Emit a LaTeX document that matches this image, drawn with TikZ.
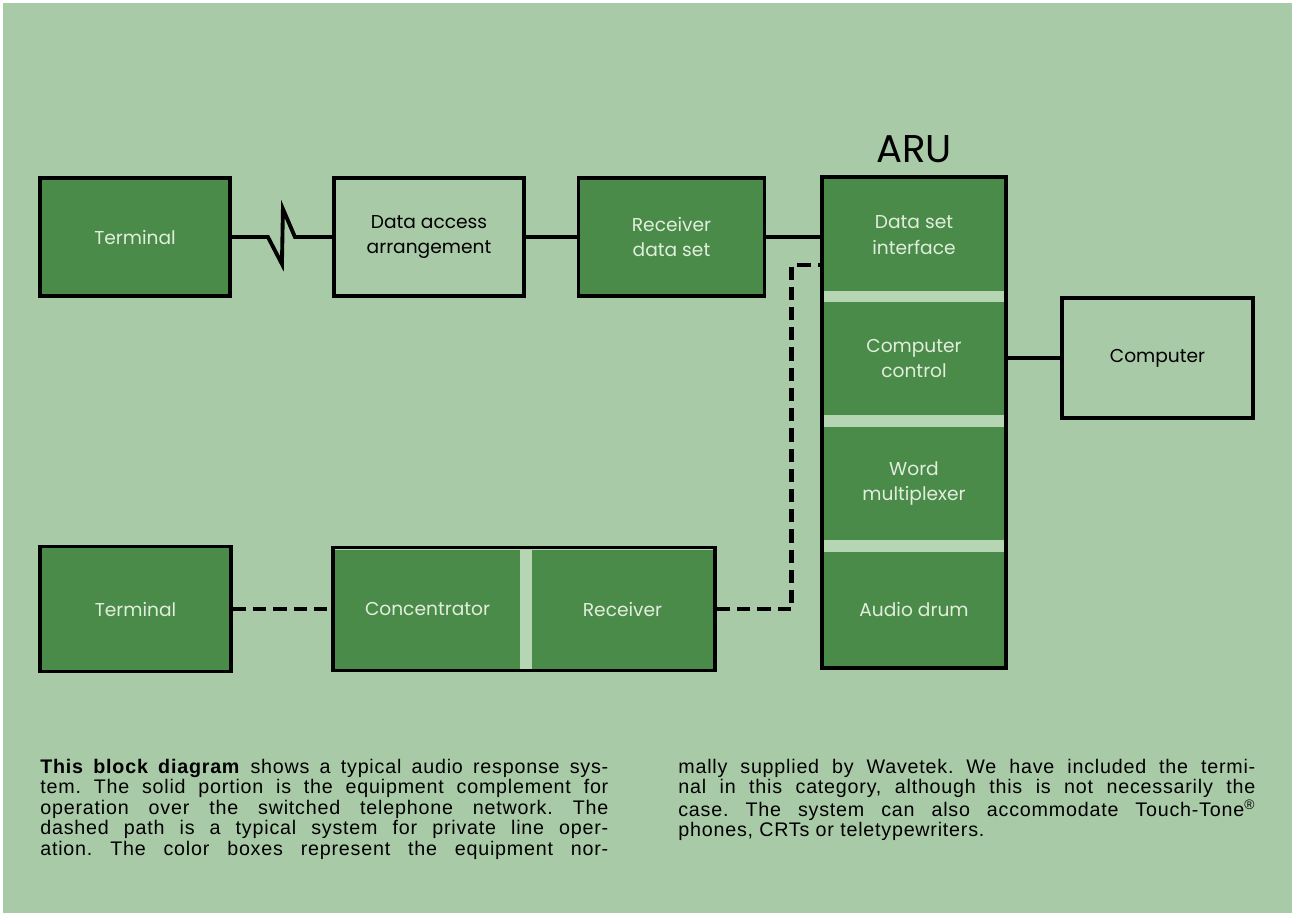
\documentclass[tikz,border=0pt]{standalone}
\usepackage{fontspec}
\setmainfont{Liberation Sans}
\newfontfamily\boxfont{Poppins}
\newfontfamily\capfont[LetterSpace=4]{Liberation Sans}
\usepackage{tikz}
\usetikzlibrary{positioning,calc}
\definecolor{arubg}{HTML}{A9CAA7}
\definecolor{arudark}{HTML}{4A8B4A}
\definecolor{aruband}{HTML}{B6D5B3}
\definecolor{arutext}{HTML}{E2EEDC}

\begin{document}
\begin{tikzpicture}[
  font=\boxfont\fontsize{10.6}{14.6}\selectfont,
  wire/.style={line width=2.2pt},
  dwire/.style={line width=2.8pt, dash pattern=on 7.5pt off 4pt},
  darkbox/.style={draw, line width=2.2pt, fill=arudark, text=arutext, align=center,
                  minimum width=3.8cm, minimum height=2.36cm},
  lightbox/.style={draw, line width=2.2pt, fill=arubg, text=black, align=center,
                   minimum width=3.8cm, minimum height=2.36cm},
  frame/.style={draw, line width=2.2pt, fill=aruband},
  part/.style={fill=arudark, text=arutext, align=center, inner sep=0pt},
  caption/.style={font=\capfont\fontsize{11.2}{11.7}\selectfont\frenchspacing, text width=#1,
                  align=justify, inner sep=0pt, anchor=base west},
]
  \useasboundingbox (0,0) rectangle (25.9,-18.26);
  \fill[arubg] (0.05,-0.05) rectangle (25.84,-18.26);

  % ---- switched telephone path ------------------------------------------------
  \node[darkbox] (termA) at (2.70,-4.74) {Terminal};
  \node[lightbox] (daa) at (8.58,-4.74) {Data access\\arrangement};
  \node[darkbox, minimum width=3.72cm] (rds) at (13.43,-4.74) {Receiver\\data set};

  % ---- the ARU and its four parts ---------------------------------------------
  \node[frame, minimum width=3.68cm, minimum height=9.82cm] (aru) at (18.28,-8.45) {};
  \node[part, minimum width=3.6cm, minimum height=2.24cm] (dsi) at (18.28,-4.70) {Data set\\interface};
  \node[part, minimum width=3.6cm, minimum height=2.26cm] (cc) at (18.28,-7.17) {Computer\\control};
  \node[part, minimum width=3.6cm, minimum height=2.26cm] (wm) at (18.28,-9.67) {Word\\multiplexer};
  \node[part, minimum width=3.6cm, minimum height=2.28cm] (ad) at (18.28,-12.18) {Audio drum};
  \node[font=\boxfont\fontsize{22}{26}\selectfont, inner sep=0pt, above=0.24cm of aru] (arulbl) {ARU};

  \node[lightbox, minimum width=3.82cm, minimum height=2.40cm] (comp) at (23.15,-7.16) {Computer};

  % ---- private line path ------------------------------------------------------
  \node[darkbox, minimum width=3.82cm, minimum height=2.5cm] (termB) at (2.71,-12.18) {Terminal};
  \node[frame, minimum width=7.64cm, minimum height=2.46cm] (crbox) at (10.48,-12.18) {};
  \node[part, minimum width=3.70cm, minimum height=2.38cm] (conc) at (8.55,-12.18) {Concentrator};
  \node[part, minimum width=3.62cm, minimum height=2.38cm] (recv) at (12.45,-12.18) {Receiver};

  % ---- connectors -------------------------------------------------------------
  \draw[wire] (termA.east) -- ++(0.72,0) -- ++(0.28,-0.54) -- ++(0.02,1.10) -- ++(0.24,-0.56) -- (daa.west);
  \draw[wire] (daa.east) -- (rds.west);
  \draw[wire] (rds.east) -- (rds.east -| aru.west);
  \draw[wire] (aru.east |- comp.west) -- (comp.west);
  \draw[dwire] (termB.east) -- (crbox.west);
  \draw[dwire] (crbox.east) -- ++(1.50,0) |- ([yshift=-0.6cm]dsi.west);

  % ---- caption ----------------------------------------------------------------
  \node[caption=11.36cm] (capL) at (0.80,-15.46)
    {\parfillskip=0pt \textbf{This block diagram} shows a typical audio response sys-\linebreak
     tem. The solid portion is the equipment complement for\linebreak
     operation over the switched telephone network. The\linebreak
     dashed path is a typical system for private line oper-\linebreak
     ation. The color boxes represent the equipment nor-\par};
  \node[caption=11.54cm] (capR) at (13.56,-15.46)
    {mally supplied by Wavetek. We have included the termi-\linebreak
     nal in this category, although this is not necessarily the\linebreak
     case. The system can also accommodate Touch-Tone\textsuperscript{\textregistered}\linebreak
     phones, CRTs or teletypewriters.\par};
\end{tikzpicture}
\end{document}
